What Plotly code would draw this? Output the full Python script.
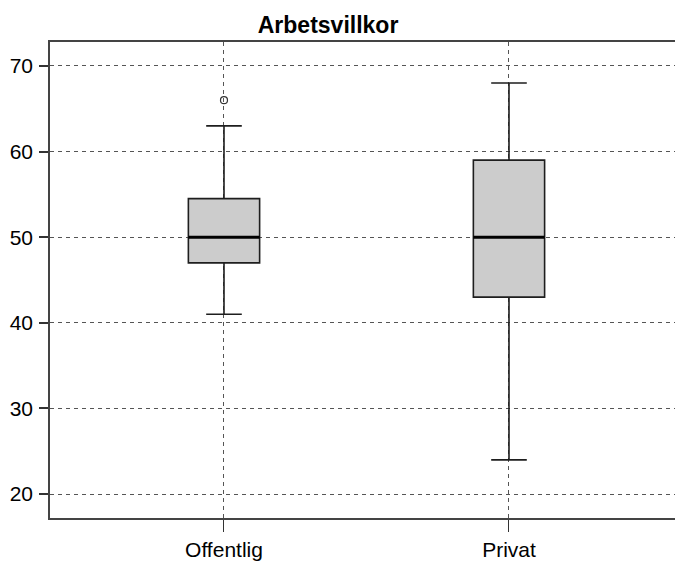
import plotly.graph_objects as go

categories = ["Offentlig", "Privat"]
q1 = [47, 43]
median = [50, 50]
q3 = [54.5, 59]
lower = [41, 24]
upper = [63, 68]
outlier_cat = ["Offentlig"]
outlier_val = [66]
y_ticks = [20, 30, 40, 50, 60, 70]

pos = list(range(len(categories)))
box_w = 0.25
FONT = "Liberation Sans, Arial, sans-serif"

fig = go.Figure()
fig.add_trace(go.Box(
    x=pos, q1=q1, median=median, q3=q3,
    lowerfence=lower, upperfence=upper,
    width=box_w, whiskerwidth=0.5,
    fillcolor="#cccccc", line=dict(color="#1e1e1e", width=1.6),
    boxpoints=False, showlegend=False, hoverinfo="skip",
))
# thicker median lines
for p, m in zip(pos, median):
    fig.add_trace(go.Scatter(
        x=[p - box_w / 2, p + box_w / 2], y=[m, m], mode="lines",
        showlegend=False, hoverinfo="skip",
        line=dict(color="black", width=3),
    ))
fig.add_trace(go.Scatter(
    x=[categories.index(c) for c in outlier_cat], y=outlier_val, mode="markers",
    showlegend=False, hoverinfo="skip",
    marker=dict(symbol="circle-open", size=7, color="#333333", line=dict(width=1.2)),
))

fig.update_layout(
    width=675, height=561,
    margin=dict(l=50, r=0, t=42, b=41),
    paper_bgcolor="white", plot_bgcolor="white",
    title=dict(text="<b>Arbetsvillkor</b>", x=0.486, xref="container", xanchor="center",
               y=0.955, yref="container", yanchor="middle",
               font=dict(family=FONT, size=23, color="black")),
    font=dict(family=FONT, size=21, color="black"),
)
fig.update_xaxes(
    range=[-0.6105, 1.5825], tickvals=pos, ticktext=categories,
    showgrid=True, gridcolor="#555555", griddash="4px,4px", gridwidth=1,
    ticks="outside", ticklen=12, tickcolor="#333333", tickwidth=1.3,
    showline=True, linecolor="#444444", linewidth=1.5, mirror=True,
    zeroline=False, tickfont=dict(size=21),
)
fig.update_yaxes(
    range=[17.21, 72.79], tickvals=y_ticks,
    showgrid=True, gridcolor="#555555", griddash="4px,4px", gridwidth=1,
    ticks="outside", ticklen=9, tickcolor="#333333", tickwidth=1.5,
    showline=True, linecolor="#444444", linewidth=1.5, mirror=False,
    zeroline=False, tickfont=dict(size=21), ticklabelstandoff=2,
)

fig.write_html(
    "out.html",
    config={"displayModeBar": False},
    post_script="document.body.style.margin='0';document.body.style.overflow='hidden';",
)
